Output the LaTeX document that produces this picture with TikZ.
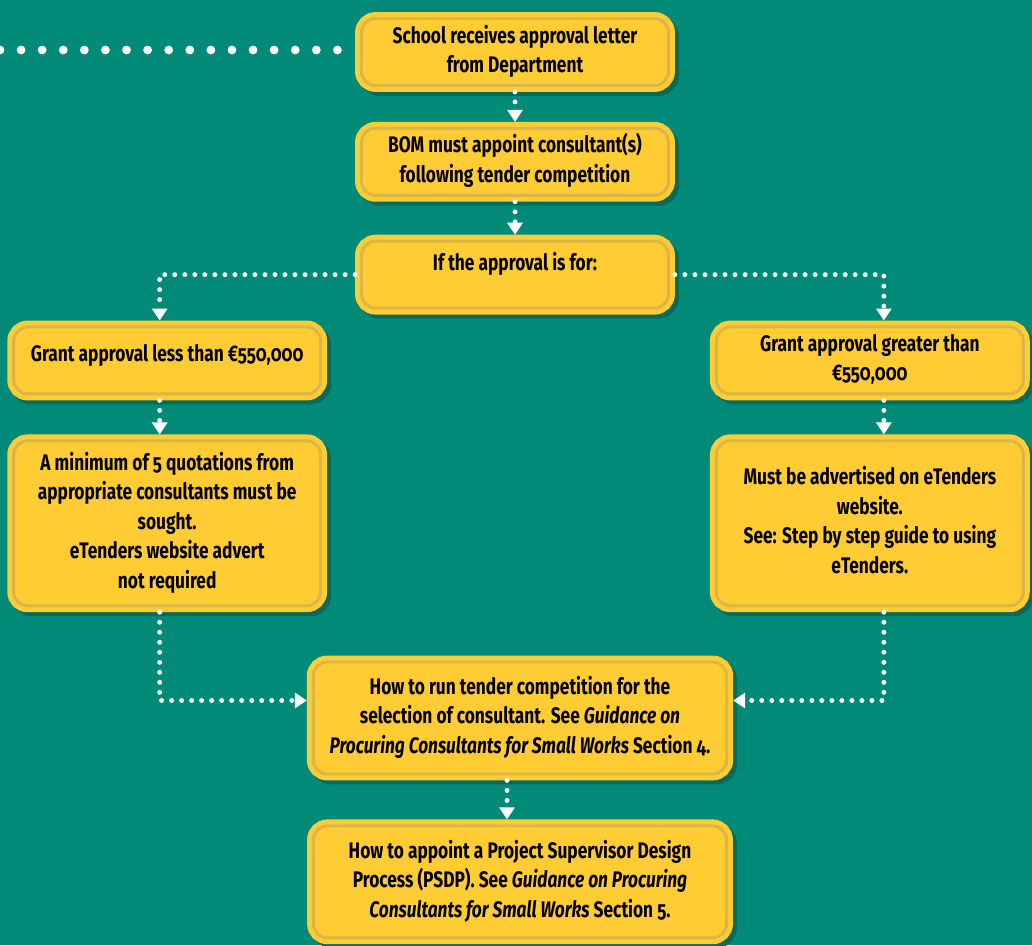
\documentclass[tikz,border=0pt]{standalone}
\usepackage{fontspec}
\setmainfont{Fira Sans}[FakeStretch=0.77, Numbers=OldStyle]
\usetikzlibrary{positioning,arrows.meta}
\definecolor{sea}{RGB}{2,138,120}
\definecolor{gold}{RGB}{255,204,51}
\definecolor{goldedge}{RGB}{218,182,72}
\definecolor{seashade}{RGB}{7,106,92}

\begin{document}
\begin{tikzpicture}[
    node distance=0.6cm,
    font=\fontsize{12.8}{16.8}\selectfont\bfseries,
    stage/.style={
		rectangle,
		rounded corners=0.28cm,
		draw=goldedge,
		line width=1.7pt,
		fill=gold,
		text centered,
		inner ysep=0.5pt,
		minimum width=6.14cm,
		minimum height=1.34cm,
		outer sep=3.65pt,
		preaction={draw=seashade, fill=seashade, line width=7.3pt,
		  transform canvas={shift={(0.08cm,-0.08cm)}}},
		preaction={draw=gold, fill=gold, line width=7.3pt}
	},
	tall/.style={
		minimum height=3.30cm
	},
	wide/.style={
		minimum width=8.26cm,
		minimum height=2.24cm
	},
	flow/.style={
		draw=white,
		line width=2.8pt,
		line cap=round,
		dash pattern=on 0pt off 5.7pt,
		-{Triangle[length=0.24cm,width=0.3cm]}
	},
	lead/.style={
		draw=white,
		line width=5pt,
		line cap=round,
		dash pattern=on 0pt off 12pt
	}
  ]
  \useasboundingbox (0,0) rectangle (20.64,-18.9);
  \fill [sea] (0,0) rectangle (20.64,-18.9);

    % We start by placing the blocks

  \node [stage] (letter) at (10.3,-1.04)
 {%
 \begin{tabular}{c}
  School receives approval letter\\
  from Department
 \end{tabular}
 };

  \node [stage, below=0.6cm of letter] (approval)
 {%
 \begin{tabular}{c}
  BOM must appoint consultant(s)\\
  following tender competition
 \end{tabular}
 };

  \node [stage, below=0.66cm of approval, text depth=0.55cm] (ask)
 {If the approval is for:};

  \node [stage, below left=0.12cm and 0.56cm of ask, text depth=0.3cm] (small)
 {Grant approval less than €550,000};

  \node [stage, below right=0.12cm and 0.7cm of ask, text depth=0.5cm] (large)
 {%
 \begin{tabular}{c}
  Grant approval greater than\\
  €550,000
 \end{tabular}
 };

  \node [stage, tall, below=0.68cm of small] (quotes)
 {%
 \begin{tabular}{c}
  A minimum of 5 quotations from\\
  appropriate consultants must be\\
  sought.\\
  eTenders website advert\\
  not required
 \end{tabular}
 };

  \node [stage, tall, below=0.68cm of large] (advert)
 {%
 \begin{tabular}{c}
  Must be advertised on eTenders\\
  website.\\
  See: Step by step guide to using\\
  eTenders.
 \end{tabular}
 };

  \node [stage, wide, below=6.82cm of ask, xshift=0.1cm] (run)
 {%
 \begin{tabular}{c}
  How to run tender competition for the\\
  selection of consultant. See \textit{Guidance on}\\
  \textit{Procuring Consultants for Small Works} Section 4.
 \end{tabular}
 };

  \node [stage, wide, below=0.78cm of run] (psdp)
 {%
 \begin{tabular}{c}
  How to appoint a Project Supervisor Design\\
  Process (PSDP). See \textit{Guidance on Procuring}\\
  \textit{Consultants for Small Works} Section 5.
 \end{tabular}
 };

 \coordinate (edge) at (0,-1.0);

 \draw [lead] (edge) -- (letter.west |- edge);
 \draw [flow] (letter) -- (approval);
 \draw [flow] (approval) -- (ask);
 \draw [flow] (ask.west) -| ([xshift=-0.15cm]small.north);
 \draw [flow] (ask.east) -| ([xshift=0.28cm]large.north);
 \draw [flow] ([xshift=-0.15cm]small.south) -- ([xshift=-0.15cm]quotes.north);
 \draw [flow] ([xshift=0.28cm]large.south) -- ([xshift=0.28cm]advert.north);
 \draw [flow] ([xshift=-0.15cm]quotes.south) |- ([yshift=0.35cm]run.west);
 \draw [flow] ([xshift=0.28cm]advert.south) |- ([yshift=0.35cm]run.east);
 \draw [flow] ([xshift=-0.26cm]run.south) -- ([xshift=-0.26cm]psdp.north);

\end{tikzpicture}
\end{document}
